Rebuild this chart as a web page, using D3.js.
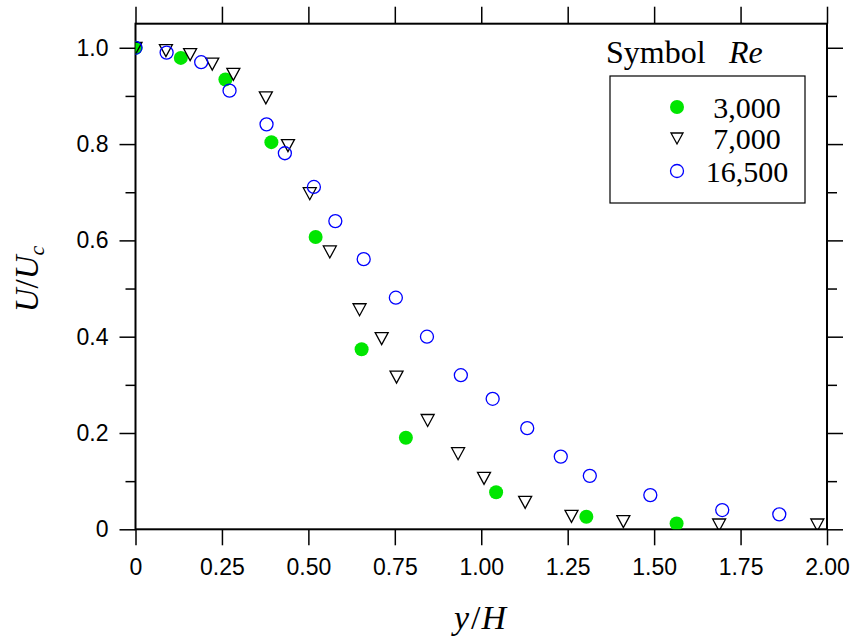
<!DOCTYPE html>
<html><head><meta charset="utf-8">
<script src="https://cdn.jsdelivr.net/npm/d3@7"></script>
<style>body{margin:0;background:#fff}svg{display:block}</style>
</head><body>
<script>
// ---- data ----
const legendTitle = ["Symbol", "Re"];
const seriesNames = ["3,000", "7,000", "16,500"];
const xTicks = [0, 0.25, 0.5, 0.75, 1.0, 1.25, 1.5, 1.75, 2.0];
const xTickLabels = ["0", "0.25", "0.50", "0.75", "1.00", "1.25", "1.50", "1.75", "2.00"];
const yMajorTicks = [0, 0.2, 0.4, 0.6, 0.8, 1.0];
const yTickLabels = ["0", "0.2", "0.4", "0.6", "0.8", "1.0"];
const yMinorTicks = [0.1, 0.3, 0.5, 0.7, 0.9];

const re3000_x = [0, 0.131, 0.260, 0.393, 0.521, 0.654, 0.782, 1.043, 1.304, 1.565];
const re3000_y = [1.0, 0.979, 0.934, 0.804, 0.607, 0.374, 0.190, 0.077, 0.026, 0.012];

const re7000_x = [0, 0.088, 0.158, 0.222, 0.283, 0.377, 0.441, 0.504, 0.562, 0.648, 0.712, 0.755, 0.845, 0.933, 1.008, 1.127, 1.261, 1.411, 1.688, 1.972];
const re7000_y = [1.0, 0.995, 0.987, 0.967, 0.946, 0.897, 0.798, 0.698, 0.577, 0.457, 0.397, 0.317, 0.227, 0.158, 0.107, 0.057, 0.028, 0.017, 0.010, 0.010];

const re16500_x = [0, 0.090, 0.190, 0.272, 0.379, 0.432, 0.516, 0.578, 0.660, 0.753, 0.843, 0.941, 1.033, 1.133, 1.230, 1.314, 1.489, 1.697, 1.862];
const re16500_y = [1.0, 0.990, 0.970, 0.911, 0.841, 0.781, 0.711, 0.640, 0.561, 0.481, 0.400, 0.320, 0.271, 0.210, 0.151, 0.111, 0.071, 0.040, 0.031];

// ---- layout ----
const W = 853, H = 639;
const L = 135.5, R = 827, T = 23.7, B = 529.3;
const svg = d3.select("body").append("svg").attr("width", W).attr("height", H);

const x = d3.scaleLinear().domain([0, 2]).range([L, R]);
const y = d3.scaleLinear().domain([0, 1.05]).range([B, T]);

const sans = "'Liberation Sans', Arial, sans-serif";
const serif = "'Liberation Serif', 'Times New Roman', serif";

// clip
svg.append("clipPath").attr("id", "clip").append("rect")
  .attr("x", L).attr("y", T).attr("width", R - L).attr("height", B - T);

function styleAxis(g) {
  g.select(".domain").remove();
  g.selectAll(".tick line").attr("stroke", "#000").attr("stroke-width", 1.5);
}

// bottom
svg.append("g").attr("transform", `translate(0,${B})`)
  .call(d3.axisBottom(x).tickValues(xTicks).tickSize(16).tickSizeOuter(0)
    .tickFormat((d, i) => xTickLabels[i]))
  .call(styleAxis)
  .call(g => g.selectAll("text").attr("font-family", sans).attr("font-size", 23)
    .attr("fill", "#000").attr("y", 29).attr("dy", "0.71em"));
// top
svg.append("g").attr("transform", `translate(0,${T})`)
  .call(d3.axisTop(x).tickValues(xTicks).tickSize(17).tickSizeOuter(0).tickFormat(""))
  .call(styleAxis);
// left major
svg.append("g").attr("transform", `translate(${L},0)`)
  .call(d3.axisLeft(y).tickValues(yMajorTicks).tickSize(16).tickSizeOuter(0)
    .tickFormat((d, i) => yTickLabels[i]))
  .call(styleAxis)
  .call(g => g.selectAll("text").attr("font-family", sans).attr("font-size", 23)
    .attr("fill", "#000").attr("x", -27));
// left minor
svg.append("g").attr("transform", `translate(${L},0)`)
  .call(d3.axisLeft(y).tickValues(yMinorTicks).tickSize(10).tickSizeOuter(0).tickFormat(""))
  .call(styleAxis);
// right major
svg.append("g").attr("transform", `translate(${R},0)`)
  .call(d3.axisRight(y).tickValues(yMajorTicks).tickSize(16).tickSizeOuter(0).tickFormat(""))
  .call(styleAxis);
// right minor
svg.append("g").attr("transform", `translate(${R},0)`)
  .call(d3.axisRight(y).tickValues(yMinorTicks).tickSize(10).tickSizeOuter(0).tickFormat(""))
  .call(styleAxis);

// frame
svg.append("rect").attr("x", L).attr("y", T).attr("width", R - L).attr("height", B - T)
  .attr("fill", "none").attr("stroke", "#000").attr("stroke-width", 2);

// data marks
const plot = svg.append("g").attr("clip-path", "url(#clip)");
const triPath = "M-6.5,-5.5L6.5,-5.5L0,6.5Z";

plot.selectAll("circle.g").data(d3.zip(re3000_x, re3000_y)).join("circle")
  .attr("class", "g").attr("cx", d => x(d[0])).attr("cy", d => y(d[1])).attr("r", 7)
  .attr("fill", "#00e600").attr("stroke", "none");

plot.selectAll("path.t").data(d3.zip(re7000_x, re7000_y)).join("path")
  .attr("class", "t").attr("d", triPath)
  .attr("transform", d => `translate(${x(d[0])},${y(d[1])})`)
  .attr("fill", "none").attr("stroke", "#000").attr("stroke-width", 1.3);

plot.selectAll("circle.b").data(d3.zip(re16500_x, re16500_y)).join("circle")
  .attr("class", "b").attr("cx", d => x(d[0])).attr("cy", d => y(d[1])).attr("r", 6.5)
  .attr("fill", "none").attr("stroke", "#0000ff").attr("stroke-width", 1.3);

// axis titles
const xt = svg.append("text").attr("x", 480).attr("y", 629).attr("text-anchor", "middle")
  .attr("font-family", serif).attr("font-size", 34).attr("font-style", "italic");
xt.append("tspan").text("y");
xt.append("tspan").attr("font-style", "normal").attr("dx", 2).text("/");
xt.append("tspan").attr("dx", 1).text("H");

const yt = svg.append("text").attr("transform", "translate(38,279) rotate(-90)")
  .attr("text-anchor", "middle").attr("font-family", serif).attr("font-size", 33)
  .attr("font-style", "italic");
yt.append("tspan").text("U");
yt.append("tspan").attr("font-style", "normal").text("/");
yt.append("tspan").text("U");
yt.append("tspan").attr("font-size", 22).attr("dy", 6).text("c");

// legend
svg.append("text").attr("x", 606).attr("y", 63).attr("font-family", serif)
  .attr("font-size", 32).text(legendTitle[0]);
svg.append("text").attr("x", 729).attr("y", 63).attr("font-family", serif)
  .attr("font-size", 32).attr("font-style", "italic").text(legendTitle[1]);
svg.append("rect").attr("x", 610).attr("y", 76).attr("width", 195).attr("height", 127)
  .attr("fill", "#fff").attr("stroke", "#000").attr("stroke-width", 1.2);

const legY = [107, 138, 171];
svg.append("circle").attr("cx", 677).attr("cy", legY[0]).attr("r", 7).attr("fill", "#00e600");
svg.append("path").attr("d", "M-6,-5L6,-5L0,6Z").attr("transform", `translate(677,${legY[1]})`)
  .attr("fill", "none").attr("stroke", "#000").attr("stroke-width", 1.3);
svg.append("circle").attr("cx", 677).attr("cy", legY[2]).attr("r", 6.5).attr("fill", "none")
  .attr("stroke", "#0000ff").attr("stroke-width", 1.3);
seriesNames.forEach((s, i) => {
  svg.append("text").attr("x", 747).attr("y", legY[i] + 11).attr("text-anchor", "middle")
    .attr("font-family", serif).attr("font-size", 30).text(s);
});
</script>
</body></html>
